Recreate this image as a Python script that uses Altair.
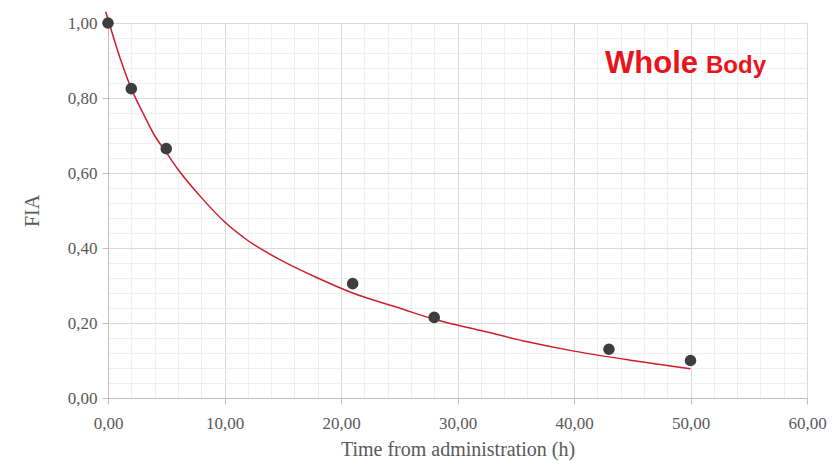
import altair as alt
import pandas as pd

# measured points
time_h = [0, 2, 5, 21, 28, 43, 50]
fia = [1.00, 0.825, 0.665, 0.305, 0.215, 0.13, 0.10]

# fitted curve
fit_time = [-0.2, 0, 1, 2, 3, 4, 5, 6, 8, 10, 12, 15, 18, 21, 25, 28, 32, 36, 40, 45, 50]
fit_fia = [1.03, 1.01, 0.91, 0.825, 0.76, 0.70, 0.655, 0.61, 0.535, 0.47, 0.42,
           0.365, 0.32, 0.28, 0.24, 0.21, 0.18, 0.15, 0.125, 0.10, 0.078]

x_ticks = list(range(0, 61, 2))
y_ticks = [round(i * 0.04, 2) for i in range(26)]
title_words = ["Whole", "Body"]

pts = pd.DataFrame({"t": time_h, "fia": fia})
fit = pd.DataFrame({"t": fit_time, "fia": fit_fia})

major_x = "datum.value % 10 == 0"
major_y = "round(datum.value * 100) % 20 == 0"

x_axis = alt.Axis(
    values=x_ticks, tickCount=200,
    title="Time from administration (h)",
    labelExpr=f"{major_x} ? replace(format(datum.value, '.2f'), '.', ',') : ''",
    gridColor={"condition": {"test": major_x, "value": "#d9d9d9"}, "value": "#efefef"},
    tickColor={"condition": {"test": major_x, "value": "#bfbfbf"}, "value": "transparent"},
    labelOverlap=False, labelFlush=False, tickSize=6, labelPadding=11,
    titlePadding=8,
)
y_axis = alt.Axis(
    values=y_ticks, tickCount=200,
    title="FIA",
    labelExpr=f"{major_y} ? replace(format(datum.value, '.2f'), '.', ',') : ''",
    gridColor={"condition": {"test": major_y, "value": "#d9d9d9"}, "value": "#efefef"},
    tickColor={"condition": {"test": major_y, "value": "#bfbfbf"}, "value": "transparent"},
    labelOverlap=False, labelFlush=False, tickSize=6, labelPadding=5,
    titlePadding=25,
)

xs = alt.Scale(domain=[0, 60], nice=False)
ys = alt.Scale(domain=[0, 1], nice=False)

curve = alt.Chart(fit).mark_line(color="#cc1f2a", strokeWidth=1.5, interpolate="monotone", clip=False).encode(
    x=alt.X("t:Q", scale=xs, axis=x_axis),
    y=alt.Y("fia:Q", scale=ys, axis=y_axis),
)
dots = alt.Chart(pts).mark_point(filled=True, size=135, color="#3e3e3e", opacity=1).encode(
    x=alt.X("t:Q", scale=xs),
    y=alt.Y("fia:Q", scale=ys),
)
t1 = alt.Chart(pd.DataFrame({"w": [title_words[0]]})).mark_text(
    font="Liberation Sans", fontWeight="bold", fontSize=31, color="#e8131b",
    align="left", baseline="alphabetic",
).encode(text="w:N", x=alt.value(497), y=alt.value(50))
t2 = alt.Chart(pd.DataFrame({"w": [title_words[1]]})).mark_text(
    font="Liberation Sans", fontWeight="bold", fontSize=24, color="#e8131b",
    align="left", baseline="alphabetic",
).encode(text="w:N", x=alt.value(598), y=alt.value(50))

chart = alt.layer(curve, dots, t1, t2).properties(
    width=699, height=375,
    autosize=alt.AutoSizeParams(type="none"),
    padding={"left": 100, "top": 15, "right": 20, "bottom": 65},
).configure_view(stroke=None).configure_axis(
    domainColor="#bfbfbf",
    labelFont="Liberation Serif", labelFontSize=17, labelColor="#595959",
    titleFont="Liberation Serif", titleFontSize=20, titleColor="#595959",
    titleFontWeight="normal",
)

chart.save("out.html", embed_options={"renderer": "svg", "actions": False})
